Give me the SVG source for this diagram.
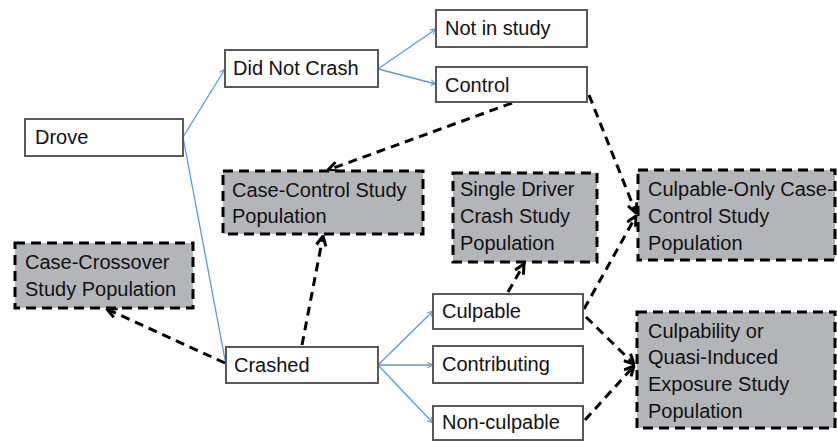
<svg xmlns="http://www.w3.org/2000/svg" width="837" height="442" viewBox="0 0 837 442">
<style>
.n{fill:#fff;stroke:#595959;stroke-width:2}
.s{fill:#b4b5b8;stroke:#000;stroke-width:3;stroke-dasharray:10 6}
text{font-family:"Liberation Sans",Arial,sans-serif;font-size:20px;fill:#111}
.b{fill:none;stroke:#5b9bd5;stroke-width:1.3;marker-end:url(#ab)}
.d{fill:none;stroke:#000;stroke-width:3;stroke-dasharray:9 6;marker-end:url(#ad)}
</style>
<defs>
<marker id="ab" viewBox="0 0 10 10" refX="9" refY="5" markerWidth="7" markerHeight="7" markerUnits="userSpaceOnUse" orient="auto">
<path d="M1,1 L9,5 L1,9" fill="none" stroke="#5b9bd5" stroke-width="1.5"/>
</marker>
<marker id="ad" viewBox="0 0 10 10" refX="9" refY="5" markerWidth="12" markerHeight="12" markerUnits="userSpaceOnUse" orient="auto">
<path d="M1,1 L9,5 L1,9" fill="none" stroke="#000" stroke-width="2.5"/>
</marker>
</defs>
<g id="connectors">
<path class="b" d="M183,137 L225,69"/>
<path class="b" d="M183,137 L226,365"/>
<path class="b" d="M378,69 L436,29"/>
<path class="b" d="M378,69 L436,84"/>
<path class="b" d="M378,365 L433,311"/>
<path class="b" d="M378,365 L433,365"/>
<path class="b" d="M378,365 L433,423"/>
<path class="d" d="M512,103 L328,170"/>
<path class="d" d="M589,95 L636,213"/>
<path class="d" d="M302,345 L323,236"/>
<path class="d" d="M225,363 L107,309"/>
<path class="d" d="M508,292 L524,264"/>
<path class="d" d="M584,309 L636,216"/>
<path class="d" d="M586,317 L634,364"/>
<path class="d" d="M585,420 L634,366"/>
</g>
<g id="drove"><rect class="n" x="25" y="119" width="158" height="37"/><text x="35" y="144">Drove</text></g>
<g id="did-not-crash"><rect class="n" x="225" y="50" width="153" height="37"/><text x="233" y="75">Did Not Crash</text></g>
<g id="not-in-study"><rect class="n" x="436" y="10" width="151" height="37"/><text x="445" y="35">Not in study</text></g>
<g id="control"><rect class="n" x="436" y="67" width="151" height="35"/><text x="445" y="92">Control</text></g>
<g id="crashed"><rect class="n" x="226" y="347" width="152" height="36"/><text x="234" y="372">Crashed</text></g>
<g id="culpable"><rect class="n" x="433" y="294" width="150" height="35"/><text x="442" y="318">Culpable</text></g>
<g id="contributing"><rect class="n" x="433" y="346" width="150" height="37"/><text x="442" y="371">Contributing</text></g>
<g id="non-culpable"><rect class="n" x="433" y="406" width="150" height="34"/><text x="442" y="429">Non-culpable</text></g>
<g id="case-control"><rect class="s" x="223" y="171" width="200" height="63"/><text x="232" y="197">Case-Control Study</text><text x="232" y="223">Population</text></g>
<g id="single-driver"><rect class="s" x="453" y="173" width="144" height="89"/><text x="460" y="196">Single Driver</text><text x="460" y="223">Crash Study</text><text x="460" y="250">Population</text></g>
<g id="culpable-only"><rect class="s" x="638" y="170" width="197" height="90"/><text x="648" y="196">Culpable-Only Case-</text><text x="648" y="223">Control Study</text><text x="648" y="250">Population</text></g>
<g id="culpability"><rect class="s" x="637" y="312" width="198" height="116"/><text x="648" y="338">Culpability or</text><text x="648" y="364">Quasi-Induced</text><text x="648" y="391">Exposure Study</text><text x="648" y="418">Population</text></g>
<g id="case-crossover"><rect class="s" x="15" y="243" width="178" height="65"/><text x="25" y="269">Case-Crossover</text><text x="25" y="296">Study Population</text></g>
</svg>
